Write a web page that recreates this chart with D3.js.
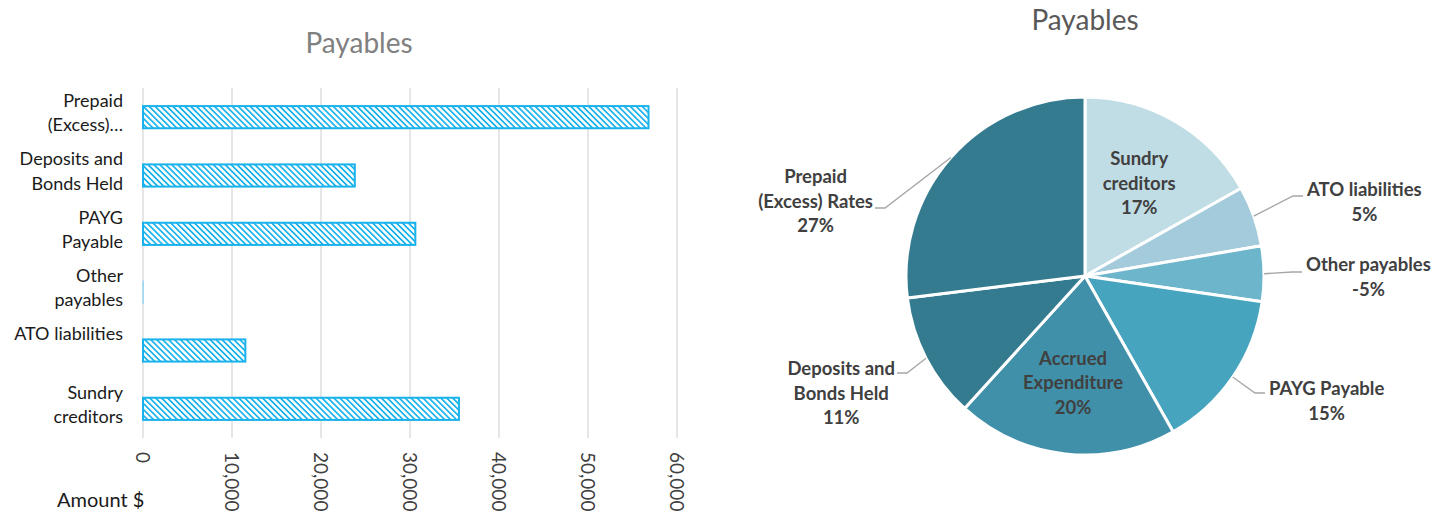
<!DOCTYPE html>
<html>
<head>
<meta charset="utf-8">
<script src="https://cdn.jsdelivr.net/npm/d3@7"></script>
<style>
  body { margin: 0; background: #fff; }
  svg { display: block; font-family: Lato, "Liberation Sans", sans-serif; }
</style>
</head>
<body>
<div id="grafica"></div>
<script>
// Datos de la grafica de barras (de arriba a abajo)
const barCategories = ["Prepaid (Excess) Rates", "Deposits and Bonds Held", "PAYG Payable",
                       "Other payables", "ATO liabilities", "Sundry creditors"];
const barLabels = [["Prepaid", "(Excess)…"], ["Deposits and", "Bonds Held"], ["PAYG", "Payable"],
                   ["Other", "payables"], ["ATO liabilities"], ["Sundry", "creditors"]];
const barValues = [56800, 23800, 30600, -10500, 11500, 35500];
const xTicks = [0, 10000, 20000, 30000, 40000, 50000, 60000];

// Datos de la tarta (sentido horario desde las 12)
const pieCategories = ["Sundry creditors", "ATO liabilities", "Other payables", "PAYG Payable",
                       "Accrued Expenditure", "Deposits and Bonds Held", "Prepaid (Excess) Rates"];
const pieLabels = [["Sundry", "creditors"], ["ATO liabilities"], ["Other payables"], ["PAYG Payable"],
                   ["Accrued", "Expenditure"], ["Deposits and", "Bonds Held"], ["Prepaid", "(Excess) Rates"]];
const pieValues = [35500, 11500, -10500, 30600, 42000, 23800, 56800];
const pieColors = ["#c0dce4", "#a3cbdb", "#6cb5cb", "#46a4be", "#4190a9", "#357b8f", "#357b8f"];

const width = 1453, height = 515;

const svg = d3.select("#grafica").append("svg")
  .attr("width", width)
  .attr("height", height);

// ---------- Grafica de barras ----------
const x = d3.scaleLinear().domain([0, 60000]).range([143, 677]).clamp(true);
const y = d3.scaleBand().domain(barCategories).range([88, 438]).paddingInner(0.62).paddingOuter(0.31);

// patron de rayas diagonales
const defs = svg.append("defs");
const pat = defs.append("pattern")
  .attr("id", "rayas")
  .attr("patternUnits", "userSpaceOnUse")
  .attr("width", 4.2).attr("height", 4.2)
  .attr("patternTransform", "rotate(-45)");
pat.append("rect").attr("width", 4.2).attr("height", 4.2).attr("fill", "#fff");
pat.append("rect").attr("width", 1.7).attr("height", 4.2).attr("fill", "#19b2ec");

svg.append("text")
  .attr("x", 359).attr("y", 53)
  .attr("text-anchor", "middle")
  .attr("font-size", 28)
  .attr("fill", "#808080")
  .text("Payables");

// lineas de la cuadricula
svg.append("g")
  .selectAll("line")
  .data(xTicks)
  .join("line")
  .attr("x1", d => x(d)).attr("x2", d => x(d))
  .attr("y1", 88).attr("y2", 438)
  .attr("stroke", "#d9d9d9")
  .attr("stroke-width", 1.3);

// barras (los negativos quedan recortados en 0, como una raya fina)
svg.append("g")
  .selectAll("rect")
  .data(barCategories)
  .join("rect")
  .attr("x", (d, i) => x(Math.min(0, barValues[i])))
  .attr("y", d => y(d))
  .attr("width", (d, i) => Math.max(0.3, Math.abs(x(barValues[i]) - x(0))))
  .attr("height", y.bandwidth())
  .attr("fill", "url(#rayas)")
  .attr("stroke", (d, i) => barValues[i] < 0 ? "#8fd6f3" : "#19b2ec")
  .attr("stroke-width", (d, i) => barValues[i] < 0 ? 1 : 2);

// etiquetas de categorias
const catGroup = svg.append("g").attr("font-size", 18).attr("fill", "#1a1a1a");
barCategories.forEach((c, i) => {
  const cy = y(c) + y.bandwidth() / 2;
  const t = catGroup.append("text")
    .attr("text-anchor", "end");
  barLabels[i].forEach((line, j) => {
    t.append("tspan")
      .attr("x", 123)
      .attr("y", cy - 16.5 + j * 24.5)
      .attr("dy", "0.35em")
      .text(line);
  });
});

// etiquetas del eje x (giradas)
svg.append("g")
  .selectAll("text")
  .data(xTicks)
  .join("text")
  .attr("transform", d => `translate(${x(d)},452) rotate(90)`)
  .attr("dy", "0.35em")
  .attr("font-size", 19)
  .attr("fill", "#404040")
  .text(d => d3.format(",")(d));

svg.append("text")
  .attr("x", 57).attr("y", 507)
  .attr("font-size", 20)
  .attr("fill", "#1a1a1a")
  .text("Amount $");

// ---------- Tarta ----------
const cx = 1085, cy = 276, R = 179;
const total = d3.sum(pieValues, v => Math.abs(v));

svg.append("text")
  .attr("x", cx).attr("y", 30)
  .attr("text-anchor", "middle")
  .attr("font-size", 28)
  .attr("fill", "#595959")
  .text("Payables");

const pie = d3.pie().sort(null).value(d => Math.abs(pieValues[d]));
const arcs = pie(d3.range(pieValues.length));
const arc = d3.arc().innerRadius(0).outerRadius(R);

const pieG = svg.append("g").attr("transform", `translate(${cx},${cy})`);

pieG.selectAll("path")
  .data(arcs)
  .join("path")
  .attr("d", arc)
  .attr("fill", d => pieColors[d.data])
  .attr("stroke", "#fff")
  .attr("stroke-width", 3)
  .attr("stroke-linejoin", "round");

// colocacion de etiquetas: null = dentro de la porcion
// elbow = codo de la linea guia, first = desplazamiento de la primera linea
const labelLayout = [
  null,
  { elbow: [208, -80], first: -6 },
  { elbow: [207, -4], first: -7 },
  { elbow: [170, 117], first: -4 },
  null,
  { elbow: [-178, 97], first: -4 },
  { elbow: [-200, -68], first: -31 }
];

const labelG = pieG.append("g")
  .attr("font-size", 18.5)
  .attr("font-weight", "bold")
  .attr("fill", "#404040");

arcs.forEach((a, i) => {
  const pct = Math.round(pieValues[i] / total * 100) + "%";
  const lines = pieLabels[i].concat([pct]);
  const mid = (a.startAngle + a.endAngle) / 2;
  const lay = labelLayout[i];

  if (lay === null) {
    // etiqueta interior
    const r = R * 0.6;
    const px = Math.sin(mid) * r, py = -Math.cos(mid) * r;
    const t = labelG.append("text").attr("text-anchor", "middle");
    lines.forEach((line, j) => {
      t.append("tspan")
        .attr("x", px)
        .attr("y", py + (j - (lines.length - 1) / 2) * 24.5)
        .attr("dy", "0.35em")
        .text(line);
    });
    return;
  }

  // linea guia
  const side = lay.elbow[0] > 0 ? 1 : -1;
  const p0 = [Math.sin(mid) * R, -Math.cos(mid) * R];
  const p1 = lay.elbow;
  const p2 = [p1[0] + side * 10, p1[1]];
  pieG.append("polyline")
    .attr("points", [p0, p1, p2].map(p => p.join(",")).join(" "))
    .attr("fill", "none")
    .attr("stroke", "#a6a6a6")
    .attr("stroke-width", 1.3);

  const t = labelG.append("text").attr("text-anchor", "middle");
  const spans = lines.map((line, j) => t.append("tspan")
    .attr("y", p1[1] + lay.first + j * 24.5)
    .attr("dy", "0.35em")
    .text(line));
  const w = d3.max(spans, s => s.node().getComputedTextLength());
  const mx = side > 0 ? p2[0] + 4 + w / 2 : p2[0] - 2 - w / 2;
  spans.forEach(s => s.attr("x", mx));
});
</script>
</body>
</html>
